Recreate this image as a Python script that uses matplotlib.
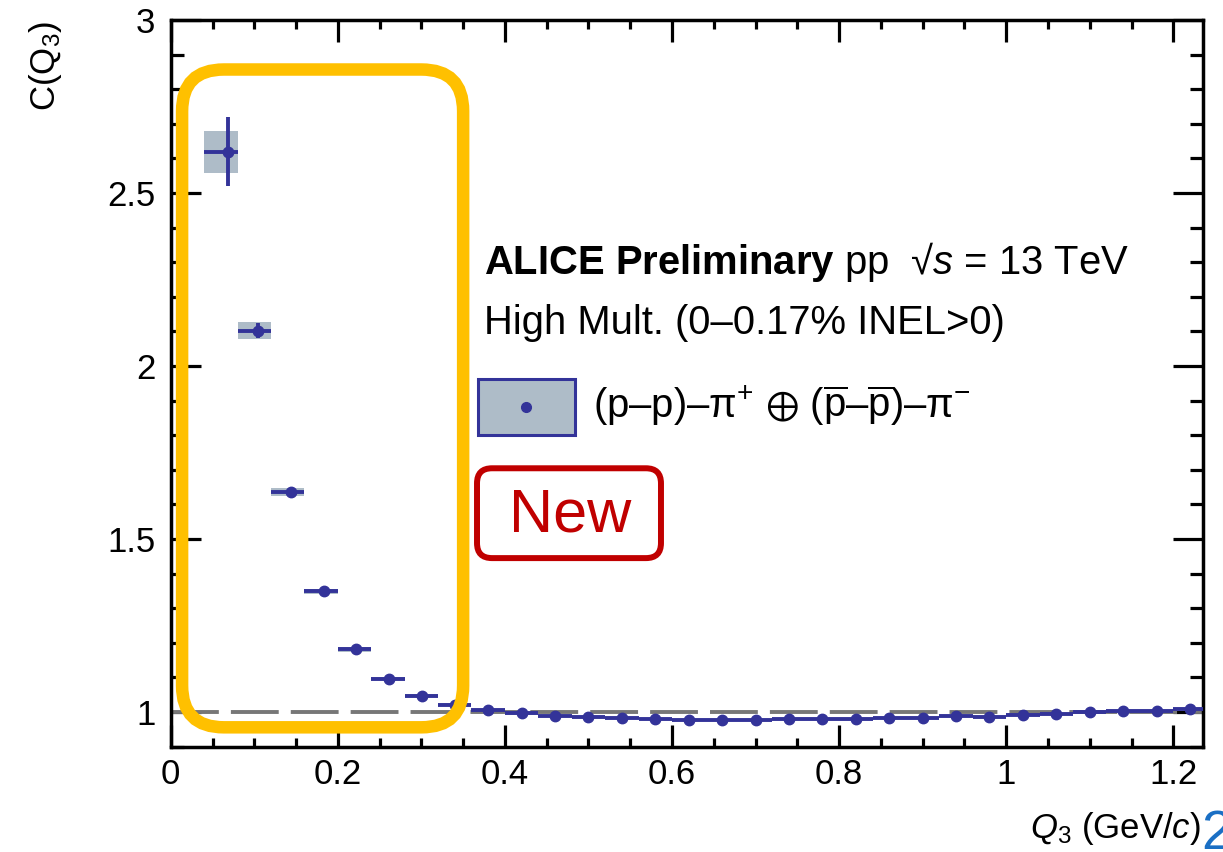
import numpy as np
import matplotlib.pyplot as plt
from matplotlib.patches import FancyBboxPatch, Rectangle
from matplotlib.ticker import MultipleLocator, FormatStrFormatter

plt.rcParams['font.family'] = ['Liberation Sans', 'DejaVu Sans']
plt.rcParams['mathtext.fontset'] = 'custom'
plt.rcParams['mathtext.rm'] = 'Liberation Sans'
plt.rcParams['mathtext.it'] = 'Liberation Sans:italic'
plt.rcParams['mathtext.bf'] = 'Liberation Sans:bold'
plt.rcParams['mathtext.fallback'] = 'stixsans'

# Q3 bins (GeV/c): low edge, high edge, point position (mean in bin)
bin_lo = [0.04, 0.08, 0.12, 0.16, 0.20, 0.24, 0.28, 0.32, 0.36, 0.40,
          0.44, 0.48, 0.52, 0.56, 0.60, 0.64, 0.68, 0.72, 0.76, 0.80,
          0.84, 0.88, 0.92, 0.96, 1.00, 1.04, 1.08, 1.12, 1.16, 1.20]
bin_hi = [0.08, 0.12, 0.16, 0.20, 0.24, 0.28, 0.32, 0.36, 0.40, 0.44,
          0.48, 0.52, 0.56, 0.60, 0.64, 0.68, 0.72, 0.76, 0.80, 0.84,
          0.88, 0.92, 0.96, 1.00, 1.04, 1.08, 1.12, 1.16, 1.20, 1.24]
q3 = [0.069, 0.105, 0.144, 0.183, 0.222, 0.261, 0.301, 0.340, 0.380, 0.420,
      0.460, 0.500, 0.540, 0.580, 0.620, 0.660, 0.700, 0.740, 0.780, 0.820,
      0.860, 0.900, 0.940, 0.980, 1.020, 1.060, 1.100, 1.140, 1.180, 1.220]
c3 = [2.619, 2.102, 1.637, 1.349, 1.181, 1.097, 1.047, 1.021, 1.007, 0.996,
      0.988, 0.985, 0.982, 0.980, 0.978, 0.977, 0.977, 0.979, 0.980, 0.980,
      0.982, 0.984, 0.988, 0.986, 0.993, 0.995, 0.999, 1.002, 1.004, 1.009]
stat = [0.100, 0.022, 0.006, 0.004, 0.003, 0.003, 0.003, 0.003, 0.002, 0.002,
        0.002, 0.002, 0.002, 0.002, 0.002, 0.002, 0.002, 0.002, 0.002, 0.002,
        0.002, 0.002, 0.002, 0.002, 0.002, 0.002, 0.002, 0.002, 0.002, 0.002]
syst = [0.060, 0.025, 0.012, 0.008, 0.006, 0.005, 0.004, 0.004, 0.003, 0.003,
        0.003, 0.003, 0.003, 0.003, 0.003, 0.003, 0.003, 0.003, 0.003, 0.003,
        0.003, 0.003, 0.003, 0.003, 0.003, 0.003, 0.003, 0.003, 0.003, 0.003]

blue = '#333399'
syst_col = '#aebcc8'

fig = plt.figure(figsize=(12.23, 8.52), dpi=100)
ax = fig.add_axes([0.1396, 0.1236, 0.8440, 0.8529])

# systematic boxes
for lo, hi, y, s in zip(bin_lo, bin_hi, c3, syst):
    ax.add_patch(Rectangle((lo, y - s), hi - lo, 2 * s, facecolor=syst_col,
                           edgecolor='none', zorder=1))

# baseline at unity
ax.axhline(1, color='#777777', lw=2.8, dashes=(12.3, 3.1), zorder=2)

# data with stat errors
xl = np.array(q3) - np.array(bin_lo)
xh = np.array(bin_hi) - np.array(q3)
ax.errorbar(q3, c3, xerr=[xl, xh], yerr=stat, fmt='o', color=blue, ms=7.5,
            elinewidth=2.8, capsize=0, zorder=3)

ax.set_xlim(0, 1.2355)
ax.set_ylim(0.9, 3.0)
ax.xaxis.set_major_locator(MultipleLocator(0.2))
ax.xaxis.set_minor_locator(MultipleLocator(0.05))
ax.yaxis.set_major_locator(MultipleLocator(0.5))
ax.yaxis.set_minor_locator(MultipleLocator(0.1))
ax.xaxis.set_major_formatter(FormatStrFormatter('%g'))
ax.yaxis.set_major_formatter(FormatStrFormatter('%g'))
ax.tick_params(which='both', direction='in', top=True, right=True, width=2.3,
               labelsize=25)
ax.tick_params(axis='x', which='major', length=16, pad=8)
ax.tick_params(axis='x', which='minor', length=6.5)
ax.tick_params(axis='y', which='major', length=21.5, pad=11)
ax.tick_params(axis='y', which='minor', length=9.6)
for sp in ax.spines.values():
    sp.set_linewidth(2.5)

fig.text(45 / 1223, 1 - 66 / 852, 'C(Q$_3$)', rotation=90, fontsize=25,
         ha='center', va='center')
fig.text(1201 / 1223, 1 - 838 / 852, r'$Q_3$ (GeV/$c$)', fontsize=25,
         ha='right', va='baseline')
fig.text(1201 / 1223, 1 - 849 / 852, '2', fontsize=40, color='#1a6fc4',
         ha='left', va='baseline')

# header text and legend
ax.text(0.375, 2.267, r'$\bf{ALICE\ Preliminary}$ pp  √$s$ = 13 TeV',
        fontsize=28.8, ha='left', va='baseline')
ax.text(0.375, 2.094, 'High Mult. (0–0.17% INEL>0)', fontsize=28.8,
        ha='left', va='baseline')
ax.add_patch(Rectangle((0.3678, 1.8007), 0.1156, 0.1633, facecolor=syst_col,
                       edgecolor=blue, lw=2.2, zorder=4))
ax.plot([0.4256], [1.882], 'o', color=blue, ms=7, zorder=5)
ax.text(0.5056, 1.849,
        r'(p–p)–π$^{+}$ $\oplus$ ($\overline{\mathrm{p}}$–$\overline{\mathrm{p}}$)–π$^{-}$',
        fontsize=28.8, ha='left', va='baseline')

# highlight boxes
aspect = 835.5 / 346.7
ax.add_patch(FancyBboxPatch((0.0136, 0.956), 0.350 - 0.0136, 2.857 - 0.956,
                            boxstyle='round,pad=0,rounding_size=0.05',
                            mutation_aspect=aspect, facecolor='none',
                            edgecolor='#FFC000', lw=9, zorder=6, clip_on=False))
ax.add_patch(FancyBboxPatch((0.3666, 1.445), 0.5868 - 0.3666, 1.7046 - 1.445,
                            boxstyle='round,pad=0,rounding_size=0.018',
                            mutation_aspect=aspect, facecolor='white',
                            edgecolor='#C00000', lw=4.3, zorder=6))
ax.text(0.478, 1.566, 'New', fontsize=44, color='#C00000', ha='center',
        va='center', zorder=7)

fig.savefig('out.png', dpi=100)
